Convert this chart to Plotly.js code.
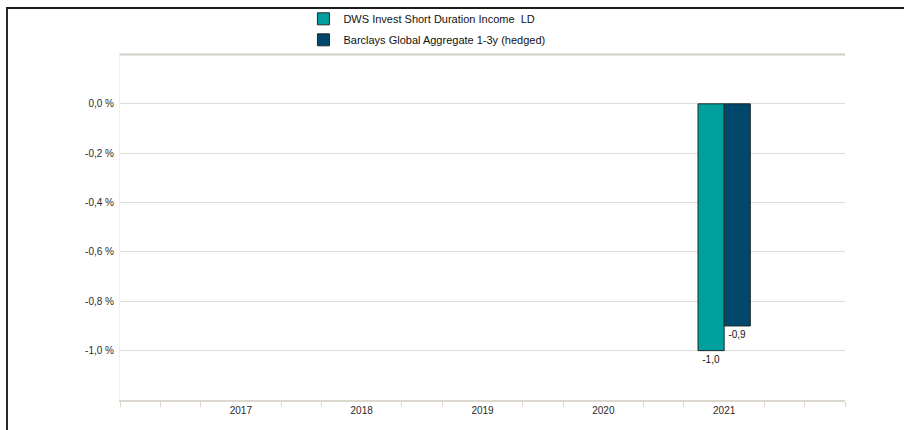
<!DOCTYPE html>
<html>
<head>
<meta charset="utf-8">
<script src="https://cdn.plot.ly/plotly-3.0.1.min.js"></script>
<style>
  html, body { margin: 0; padding: 0; background: #ffffff; }
  #wrap { position: relative; width: 904px; height: 430px; overflow: hidden; }
  #chart { position: absolute; left: 0; top: 0; width: 904px; height: 430px; }
  #frame { position: absolute; left: 6px; top: 7px; right: -10px; bottom: -10px;
           border-top: 2px solid #1c1c1c; border-left: 2px solid #2a2a2a; pointer-events: none; }
</style>
</head>
<body>
<div id="wrap">
  <div id="chart"></div>
  <div id="frame"></div>
</div>
<script>
// ---- data ----
const years = [2017, 2018, 2019, 2020, 2021];
const seriesNames = ["DWS Invest Short Duration Income  LD", "Barclays Global Aggregate 1-3y (hedged)"];
const fundValues = [null, null, null, null, -1.0];
const benchmarkValues = [null, null, null, null, -0.9];
const yTickValues = [-1.0, -0.8, -0.6, -0.4, -0.2, 0.0, 0.2];
const seriesColors = ["#00a09e", "#00476b"];

function fmtPct(v) { return v > 0.1 ? "" : v.toFixed(1).replace(".", ",") + " %"; }

// minor ticks: thirds of a year, skipping the labelled years
const xMin = years[0] - 1, xMax = years[years.length - 1] + 1;
const minorVals = [];
for (let y = xMin; y < xMax; y++) {
  if (!years.includes(y)) minorVals.push(y);
  minorVals.push(y + 1/3, y + 2/3);
}
minorVals.push(xMax);

const gridColor = "#dfdbd5";

const traces = [fundValues, benchmarkValues].map((vals, i) => ({
  type: "bar",
  name: seriesNames[i],
  x: years,
  y: vals,
  legendgroup: "g" + i,
  marker: { color: seriesColors[i], line: { color: "#1d2b2e", width: 1 } },
  text: vals.map(v => v === null ? "" : v.toFixed(1).replace(".", ",")),
  texttemplate: "%{text}",
  textposition: "outside",
  textfont: { family: "Liberation Sans, Arial, sans-serif", size: 10, color: "#111111" },
  cliponaxis: false,
  hoverinfo: "skip"
}));

// top (unlabelled) gridline drawn as a shape so it stays visible at the plot edge
const topTick = Math.max(...yTickValues);

const layout = {
  width: 904, height: 430,
  margin: { l: 120, r: 59, t: 52, b: 30, pad: 0, autoexpand: false },
  paper_bgcolor: "#ffffff",
  plot_bgcolor: "#ffffff",
  font: { family: "Liberation Sans, Arial, sans-serif", size: 10, color: "#2a2a2a" },
  barmode: "group",
  bargap: 0.567,
  bargroupgap: 0,
  showlegend: true,
  legend: {
    x: 0.253, xanchor: "left",
    y: 1.137, yanchor: "top",
    orientation: "v",
    traceorder: "grouped",
    tracegroupgap: 2,
    font: { size: 11, color: "#111111" },
    bgcolor: "rgba(0,0,0,0)"
  },
  shapes: [{
    type: "line", xref: "paper", yref: "y",
    x0: 0, x1: 1, y0: topTick, y1: topTick,
    line: { color: "#d2cdc5", width: 2 }, layer: "above"
  }],
  xaxis: {
    type: "linear",
    range: [xMin, xMax],
    tickmode: "array",
    tickvals: years,
    ticktext: years.map(String),
    ticks: "",
    showgrid: false,
    zeroline: false,
    showline: true,
    linecolor: "#dcd7cf",
    linewidth: 2,
    tickfont: { size: 10, color: "#2a2a2a" },
    minor: { tickmode: "array", tickvals: minorVals, ticks: "outside", ticklen: 5, tickwidth: 1, tickcolor: "#dcd7cf", showgrid: false },
    fixedrange: true
  },
  yaxis: {
    range: [-1.2, 0.21],
    tickmode: "array",
    tickvals: yTickValues,
    ticktext: yTickValues.map(fmtPct),
    showgrid: true,
    gridcolor: gridColor,
    gridwidth: 1,
    zeroline: false,
    showline: true,
    linecolor: "#f1efec",
    linewidth: 1,
    ticks: "outside",
    ticklen: 3,
    tickcolor: "rgba(0,0,0,0)",
    tickfont: { size: 10, color: "#2a2a2a" },
    fixedrange: true
  }
};

Plotly.newPlot("chart", traces, layout, { displayModeBar: false, staticPlot: true });
</script>
</body>
</html>
